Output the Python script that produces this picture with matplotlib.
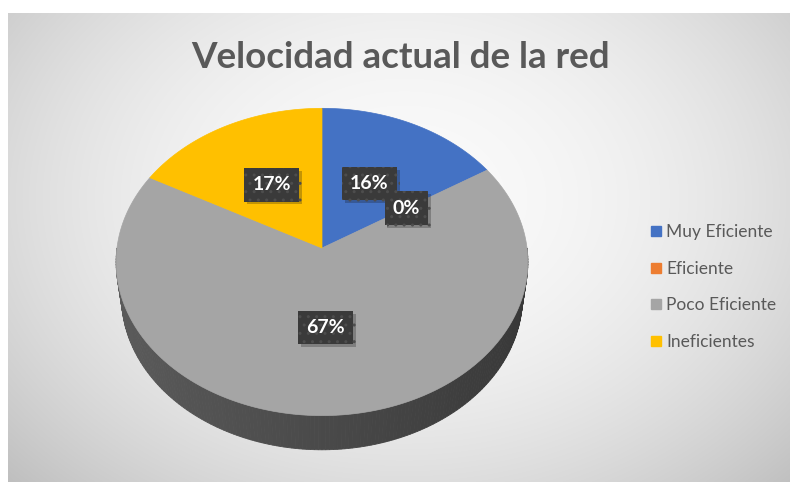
import numpy as np
import matplotlib
matplotlib.use("Agg")
import matplotlib.pyplot as plt
from matplotlib.patches import Polygon
from matplotlib.lines import Line2D
import matplotlib.patheffects as pe

# Datos del gráfico
titulo = "Velocidad actual de la red"
categorias = ["Muy Eficiente", "Eficiente", "Poco Eficiente", "Ineficientes"]
valores = [16, 0, 67, 17]
colores = ["#4472C4", "#ED7D31", "#A5A5A5", "#FFC000"]

plt.rcParams['font.family'] = ['Lato', 'DejaVu Sans']

W, H = 790, 482
fig = plt.figure(figsize=(W / 100, H / 100), dpi=100)
ax = fig.add_axes([0, 0, 1, 1])
ax.set_xlim(0, W)
ax.set_ylim(H, 0)
ax.axis('off')

# Fondo con degradado radial
xx, yy = np.meshgrid(np.arange(W), np.arange(H))
d2 = ((xx - 400) / 430.0) ** 2 + ((yy - 190) / 330.0) ** 2
fondo = np.clip(250 - 36 * d2, 0, 255) / 255.0
ax.imshow(np.dstack([fondo] * 3), extent=(8, W, H, 13), zorder=0, aspect='auto')

# Proyección en perspectiva del pastel 3D
cx, cy = 322, 248
phi = np.radians(48)
D = 7.36
f = 1509
h = 0.266


def proyectar(theta, r=1.0, z=0.0):
    u = r * np.cos(theta)
    yw = r * np.sin(theta)
    v = yw * np.sin(phi) + z * np.cos(phi)
    w = yw * np.cos(phi) - z * np.sin(phi) + D
    return cx + f * u / w, cy - f * v / w


total = float(sum(valores))
fracs = np.cumsum([0] + valores) / total
angulos = np.pi / 2 - 2 * np.pi * fracs  # desde las 12, sentido horario


def color_slice(theta):
    t = ((np.pi / 2 - theta) / (2 * np.pi)) % 1.0
    for i in range(len(valores)):
        if fracs[i] <= t < fracs[i + 1]:
            return colores[i]
    return colores[-1]


# Pared lateral (mitad frontal), sombreada según el ángulo
ts = np.linspace(np.pi, 2 * np.pi, 181)
for a, b in zip(ts[:-1], ts[1:]):
    m = 0.5 * (a + b)
    base = np.array(matplotlib.colors.to_rgb(color_slice(m)))
    nivel = 0.29 - 0.07 * np.cos(m)
    col = np.clip(base * nivel / 0.65, 0, 1)
    x1, y1 = proyectar(a)
    x2, y2 = proyectar(b)
    x3, y3 = proyectar(b, z=-h)
    x4, y4 = proyectar(a, z=-h)
    ax.add_patch(Polygon([(x1, y1), (x2, y2), (x3, y3), (x4, y4)],
                         closed=True, facecolor=col, edgecolor=col, lw=0.6, zorder=2))

# Cara superior
for i, v in enumerate(valores):
    if v == 0:
        continue
    th = np.linspace(angulos[i], angulos[i + 1], 200)
    px, py = proyectar(th)
    pts = [(cx, cy)] + list(zip(px, py))
    ax.add_patch(Polygon(pts, closed=True, facecolor=colores[i],
                         edgecolor=colores[i], lw=0.5, zorder=3))

# Etiquetas de porcentaje con sombra
for i, v in enumerate(valores):
    mid = 0.5 * (angulos[i] + angulos[i + 1])
    lx, ly = proyectar(mid, r=0.5)
    t = ax.text(lx, ly, f"{v / total * 100:.0f}%", color='white', fontsize=14,
                fontweight='bold', ha='center', va='center', zorder=4 + i * 0.1,
                bbox=dict(boxstyle='square,pad=0.42', facecolor='#3a3a3a',
                          edgecolor='#4d4d4d', hatch='..', lw=0))
    t.get_bbox_patch().set_path_effects(
        [pe.SimplePatchShadow(offset=(2, -2), alpha=0.25), pe.Normal()])

# Título
ax.text(401, 57, titulo, fontsize=26.5, fontweight='bold', color='#595959',
        ha='center', va='center', zorder=5)

# Leyenda
handles = [Line2D([], [], marker='s', linestyle='none', markersize=7,
                  markerfacecolor=c, markeredgecolor=c) for c in colores]
ax.legend(handles, categorias, loc='center left', bbox_to_anchor=(641 / W, 1 - 287 / H),
          frameon=False, fontsize=12.5, labelcolor='#595959', labelspacing=1.2,
          handletextpad=0.2, handlelength=0.75, borderpad=0)

fig.savefig("out.png", dpi=100)
